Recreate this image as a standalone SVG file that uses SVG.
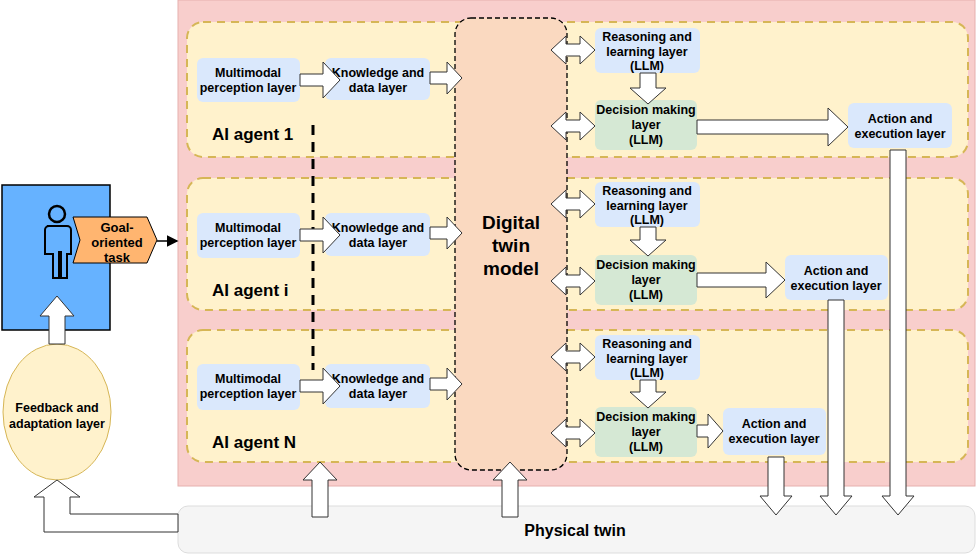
<svg xmlns="http://www.w3.org/2000/svg" width="980" height="559" viewBox="0 0 980 559">
<style>
text{font-family:"Liberation Sans",Arial,sans-serif;font-weight:bold;fill:#000;text-anchor:middle}
.t{font-size:12.5px}
.agent{fill:#fff2cc;stroke:#d6b656;stroke-width:2;stroke-dasharray:8 6}
.blue{fill:#dae8fc}
.green{fill:#d5e8d4}
.ba{fill:#fff;stroke:#333;stroke-width:1}
.lab{font-size:17px;text-anchor:start}
</style>
<defs><marker id="ah" markerWidth="8" markerHeight="8" refX="7" refY="4" orient="auto"><path d="M0,0 L8,4 L0,8 Z" fill="#000"/></marker></defs>
<rect x="178" y="0" width="797" height="486" fill="#f8cecc" stroke="#e6b0ae"/>
<g id="agent1"><rect class="agent" x="187" y="22" width="781" height="135" rx="16"/><text class="lab" x="212" y="140">AI agent 1</text></g>
<g id="agenti"><rect class="agent" x="187" y="178" width="781" height="132" rx="16"/><text class="lab" x="212" y="296">AI agent i</text></g>
<g id="agentN"><rect class="agent" x="187" y="330" width="781" height="132" rx="16"/><text class="lab" x="212" y="448">AI agent N</text></g>
<g id="dt"><rect x="455" y="18" width="112" height="452" rx="16" fill="#fad9c0" stroke="#000" stroke-width="1.3" stroke-dasharray="5 3"/><text x="511" y="229" font-size="19">Digital</text><text x="511" y="252" font-size="19">twin</text><text x="511" y="275" font-size="19">model</text></g>
<g id="rows">
<rect class="blue" x="197" y="58" width="103" height="44" rx="6"/><text class="t" x="248" y="77">Multimodal</text><text class="t" x="248" y="92">perception layer</text>
<rect class="blue" x="325" y="58" width="105" height="42" rx="6"/><text class="t" x="378" y="77">Knowledge and</text><text class="t" x="378" y="92">data layer</text>
<rect class="blue" x="197" y="213" width="103" height="45" rx="6"/><text class="t" x="248" y="232">Multimodal</text><text class="t" x="248" y="247">perception layer</text>
<rect class="blue" x="325" y="213" width="105" height="43" rx="6"/><text class="t" x="378" y="232">Knowledge and</text><text class="t" x="378" y="247">data layer</text>
<rect class="blue" x="197" y="364" width="103" height="46" rx="6"/><text class="t" x="248" y="383">Multimodal</text><text class="t" x="248" y="398">perception layer</text>
<rect class="blue" x="325" y="364" width="105" height="44" rx="6"/><text class="t" x="378" y="383">Knowledge and</text><text class="t" x="378" y="398">data layer</text>
</g>
<g id="llm">
<rect class="blue" x="595" y="28" width="105" height="45" rx="6"/><text class="t" x="647" y="41">Reasoning and</text><text class="t" x="647" y="56">learning layer</text><text class="t" x="647" y="70">(LLM)</text>
<rect class="green" x="595" y="100" width="102" height="50" rx="6"/><text class="t" x="646" y="114">Decision making</text><text class="t" x="646" y="129">layer</text><text class="t" x="646" y="144">(LLM)</text>
<rect class="blue" x="848" y="103" width="104" height="45" rx="6"/><text class="t" x="900" y="123">Action and</text><text class="t" x="900" y="138">execution layer</text>
<rect class="blue" x="595" y="182" width="105" height="45" rx="6"/><text class="t" x="647" y="195">Reasoning and</text><text class="t" x="647" y="210">learning layer</text><text class="t" x="647" y="224">(LLM)</text>
<rect class="green" x="595" y="255" width="102" height="50" rx="6"/><text class="t" x="646" y="269">Decision making</text><text class="t" x="646" y="284">layer</text><text class="t" x="646" y="299">(LLM)</text>
<rect class="blue" x="785" y="255" width="103" height="45" rx="6"/><text class="t" x="836" y="275">Action and</text><text class="t" x="836" y="290">execution layer</text>
<rect class="blue" x="595" y="335" width="105" height="45" rx="6"/><text class="t" x="647" y="348">Reasoning and</text><text class="t" x="647" y="363">learning layer</text><text class="t" x="647" y="377">(LLM)</text>
<rect class="green" x="595" y="407" width="102" height="50" rx="6"/><text class="t" x="646" y="421">Decision making</text><text class="t" x="646" y="436">layer</text><text class="t" x="646" y="451">(LLM)</text>
<rect class="blue" x="723" y="408" width="103" height="47" rx="6"/><text class="t" x="774" y="428">Action and</text><text class="t" x="774" y="443">execution layer</text>
</g>
<g id="user"><rect x="2" y="185" width="108" height="145" fill="#66b2ff" stroke="#000" stroke-width="1.5"/>
<g fill="none" stroke="#000" stroke-width="2.5"><circle cx="57" cy="214" r="8"/><path d="M47,226 h20 a4,4 0 0 1 4,4 v24 h-4 v24 h-6 v-26 h-2 v26 h-6 v-24 h-4 h-4 v-24 a4,4 0 0 1 4,-4 z" stroke-width="2"/></g>
<polygon points="73,217 147,217 157,240 147,263 73,263 80,240" fill="#ffb570" stroke="#000" stroke-width="1"/>
<text x="117" y="232" font-size="13">Goal-</text><text x="117" y="247" font-size="13">oriented</text><text x="117" y="262" font-size="13">task</text></g>
<g id="feedback"><ellipse cx="57" cy="412" rx="54" ry="68" fill="#fff2cc" stroke="#d6b656"/><text class="t" x="57" y="412">Feedback and</text><text class="t" x="57" y="428">adaptation layer</text></g>
<g id="physical"><rect x="178" y="506" width="797" height="47" rx="10" fill="#f5f5f5" stroke="#ddd"/><text x="575" y="536" font-size="16">Physical twin</text></g>
<g id="connectors">
<line x1="157" y1="241" x2="177" y2="241" stroke="#000" stroke-width="1.5" marker-end="url(#ah)"/>
<line x1="313" y1="125" x2="313" y2="370" stroke="#000" stroke-width="3" stroke-dasharray="10 7"/>
<g class="ba">
<polygon points="300,74 323,74 323,62 340,80 323,98 323,86 300,86"/>
<polygon points="430,72 447,72 447,62 462,78 447,94 447,84 430,84"/>
<polygon points="300,229 323,229 323,217 340,235 323,253 323,241 300,241"/>
<polygon points="430,227 447,227 447,217 462,233 447,249 447,239 430,239"/>
<polygon points="300,380 323,380 323,368 340,386 323,404 323,392 300,392"/>
<polygon points="430,378 447,378 447,368 462,384 447,400 447,390 430,390"/>
<polygon points="551,50 566,36 566,44 580,44 580,36 595,50 580,64 580,56 566,56 566,64"/>
<polygon points="551,126 566,112 566,120 580,120 580,112 595,126 580,140 580,132 566,132 566,140"/>
<polygon points="551,204 566,190 566,198 580,198 580,190 595,204 580,218 580,210 566,210 566,218"/>
<polygon points="551,281 566,267 566,275 580,275 580,267 595,281 580,295 580,287 566,287 566,295"/>
<polygon points="551,357 566,343 566,351 580,351 580,343 595,357 580,371 580,363 566,363 566,371"/>
<polygon points="551,433 566,419 566,427 580,427 580,419 595,433 580,447 580,439 566,439 566,447"/>
<polygon points="640,73 656,73 656,88 666,88 648,104 630,88 640,88"/>
<polygon points="640,227 656,227 656,240 666,240 648,256 630,240 640,240"/>
<polygon points="640,380 656,380 656,392 666,392 648,408 630,392 640,392"/>
<polygon points="697,120 828,120 828,108 848,127 828,146 828,134 697,134"/>
<polygon points="697,273 766,273 766,262 785,280 766,298 766,287 697,287"/>
<polygon points="697,425 708,425 708,414 723,431 708,448 708,437 697,437"/>
<polygon points="890,150 906,150 906,496 914,496 898,515 882,496 890,496"/>
<polygon points="828,300 844,300 844,496 852,496 836,515 820,496 828,496"/>
<polygon points="768,457 784,457 784,496 792,496 776,515 760,496 768,496"/>
<polygon points="312,517 328,517 328,480 337,480 320,462 303,480 312,480"/>
<polygon points="502,517 518,517 518,480 527,480 510,462 493,480 502,480"/>
<polygon points="178,514 70,514 70,497 80,497 57,480 34,497 44,497 44,532 178,532"/>
<polygon points="49,344 65,344 65,316 74,316 57,296 40,316 49,316"/>
</g>
</g>
</svg>
